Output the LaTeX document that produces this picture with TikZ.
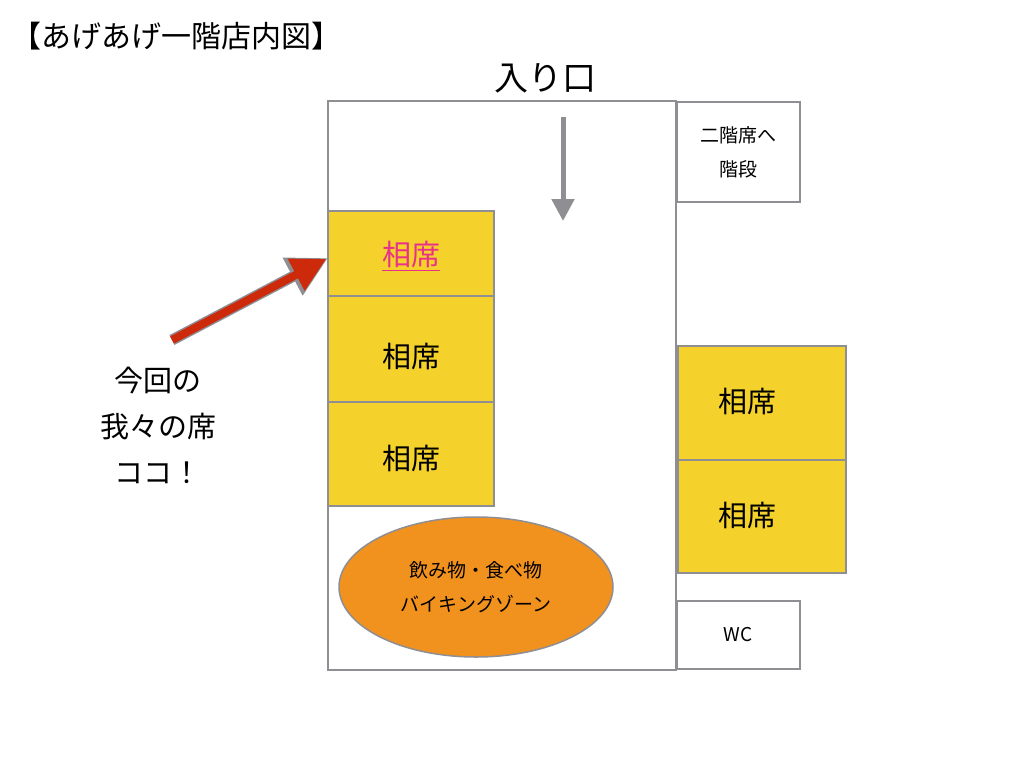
\documentclass[tikz,border=0pt]{standalone}
\usepackage{fontspec}
\setmainfont{Noto Sans CJK JP}
\usetikzlibrary{arrows.meta,positioning,shapes.geometric}
\definecolor{seatyellow}{HTML}{F4D22B}
\definecolor{buffetorange}{HTML}{F2921E}
\definecolor{wallgray}{HTML}{8E8E93}
\definecolor{markred}{HTML}{CC2A0A}
\definecolor{seatpink}{HTML}{E8318B}
\begin{document}
\begin{tikzpicture}[x=1pt,y=-1pt,
wall/.style={draw=wallgray,line width=1.5pt},
seat/.style={wall,fill=seatyellow},
big/.style={font=\fontsize{34}{40}\selectfont},
mid/.style={font=\fontsize{29}{46}\selectfont,align=center},
small/.style={font=\fontsize{19}{34}\selectfont,align=center}]
\useasboundingbox (0,0) rectangle (1024,768);
% title and entrance
\node[anchor=west,font=\fontsize{30}{36}\selectfont] (title) at (8,36) {【あげあげ一階店内図】};
\node[big] (entry) at (545,78) {入り口};
% walls
\draw[wall] (328,101) rectangle (676,670);
\draw[wall] (677,102) rectangle (800,202);
\node[small] (stairs) at (738,152) {二階席へ\\階段};
\draw[wall] (677,601) rectangle (800,669);
\node[small] (wc) at (738,635) {WC};
% seats
\draw[seat] (328,211) rectangle (494,296);
\draw[seat] (328,296) rectangle (494,402);
\draw[seat] (328,402) rectangle (494,506);
\draw[seat] (678,346) rectangle (846,460);
\draw[seat] (678,460) rectangle (846,573);
\node[mid,text=seatpink] (ourseat) at (411,256) {\underline{相席}};
\node[mid] (seatb) at (411,357) {相席};
\node[mid] (seatc) at (411,459) {相席};
\node[mid] (seatd) at (747,402) {相席};
\node[mid] (seate) at (747,516) {相席};
% buffet
\node[wall,fill=buffetorange,ellipse,minimum width=274,minimum height=140,inner sep=0] (buffet) at (476,587) {};
\node[small] at (buffet) {飲み物・食べ物\\バイキングゾーン};
% arrows
\coordinate (gostart) at (563,117);
\coordinate (goend) at (563,221);
\draw[wallgray,line width=5pt,-{Triangle[length=22pt,width=22pt]}] (gostart) -- (goend);
\coordinate (herestart) at (172,340);
\coordinate (hereend) at (328,258);
\draw[wallgray,line width=11pt,-{Triangle[length=40pt,width=40pt]}] (herestart) -- (hereend);
\draw[markred,line width=8pt,shorten >=2pt,-{Triangle[length=34pt,width=34pt]}] (herestart) -- (hereend);
\node[mid] (note) at (158,425) {今回の\\我々の席\\ココ！};
\end{tikzpicture}
\end{document}
